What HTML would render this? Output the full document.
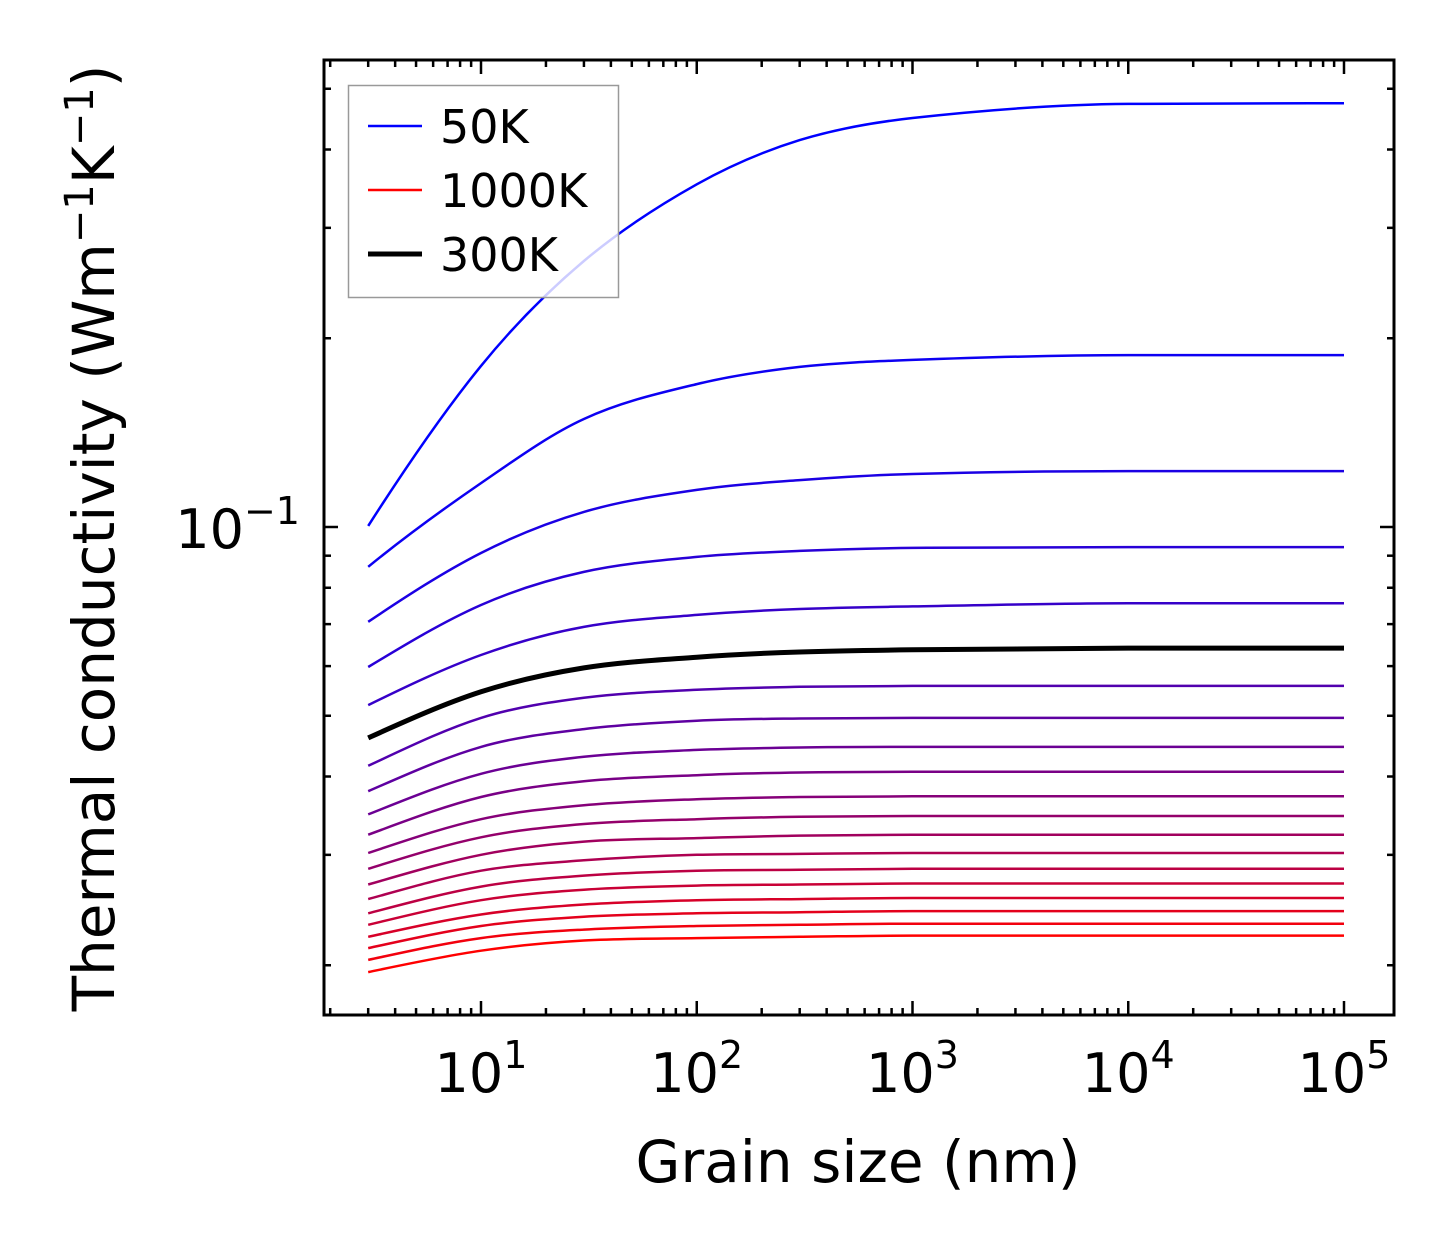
<!DOCTYPE html>
<html><head><meta charset="utf-8"><style>
body{margin:0;background:#fff}
svg text{font-family:"DejaVu Sans","Liberation Sans",sans-serif;fill:#000}
</style></head><body>
<svg id="chart" width="1454" height="1254" viewBox="0 0 1454 1254">
<rect width="1454" height="1254" fill="#fff"/>
<g id="lines"></g>
<g id="ticks"></g>
<rect x="324" y="60" width="1070" height="955" fill="none" stroke="#000" stroke-width="3"/>
<g>
<rect x="348.5" y="85.5" width="270" height="212" fill="rgba(255,255,255,0.8)" stroke="#999" stroke-width="1.5"/>
<line x1="368" y1="126" x2="422" y2="126" stroke="#00f" stroke-width="2.5"/>
<text x="440" y="143" font-size="46">50K</text>
<line x1="368" y1="190" x2="422" y2="190" stroke="#f00" stroke-width="2.5"/>
<text x="440" y="207" font-size="46">1000K</text>
<line x1="368" y1="254" x2="422" y2="254" stroke="#000" stroke-width="5"/>
<text x="440" y="271" font-size="46">300K</text>
</g>
<text x="858" y="1182" font-size="58" text-anchor="middle">Grain size (nm)</text>
<text transform="translate(114,538) rotate(-90)" font-size="58" text-anchor="middle">Thermal conductivity (Wm<tspan dy="-21" font-size="40">−1</tspan><tspan dy="21">K</tspan><tspan dy="-21" font-size="40">−1</tspan><tspan dy="21">)</tspan></text>
</svg>
<script>
const grainSizes=[3,10,30,100,300,1000,10000,100000];
const temps=[50,100,150,200,250,300,350,400,450,500,550,600,650,700,750,800,850,900,950,1000];
const k50=[0.1004,0.1807,0.2656,0.352,0.414,0.449,0.473,0.474];
const k100=[0.0864,0.1175,0.1487,0.169,0.180,0.1847,0.188,0.188];
const k150=[0.0706,0.0909,0.1057,0.1146,0.1188,0.1215,0.1228,0.1228];
const k200=[0.0598,0.0751,0.0848,0.0896,0.0916,0.0926,0.0929,0.0929];
const k250=[0.0520,0.0625,0.0693,0.0724,0.0740,0.0747,0.0756,0.0756];
const k300=[0.0461,0.0546,0.0596,0.0620,0.0632,0.0637,0.0641,0.0641];
const k350=[0.0416,0.0496,0.0534,0.0550,0.0556,0.0558,0.0558,0.0558];
const k400=[0.0379,0.0446,0.0476,0.0491,0.0495,0.0496,0.0496,0.0496];
const k450=[0.0348,0.0404,0.0430,0.0441,0.0445,0.0446,0.0446,0.0446];
const k500=[0.0323,0.0371,0.0393,0.0402,0.0406,0.0407,0.0407,0.0407];
const k550=[0.0302,0.0342,0.0360,0.0368,0.0371,0.0372,0.0372,0.0372];
const k600=[0.0285,0.0320,0.0336,0.0342,0.0345,0.0346,0.0346,0.0346];
const k650=[0.0269,0.0300,0.0315,0.0319,0.0322,0.0323,0.0323,0.0323];
const k700=[0.0255,0.0283,0.0294,0.0300,0.0301,0.0302,0.0302,0.0302];
const k750=[0.0242,0.0267,0.0278,0.0283,0.0284,0.0285,0.0285,0.0285];
const k800=[0.0232,0.0254,0.0264,0.0268,0.0269,0.0270,0.0270,0.0270];
const k850=[0.0222,0.0241,0.0250,0.0254,0.0255,0.0256,0.0256,0.0256];
const k900=[0.0213,0.0231,0.0239,0.0242,0.0243,0.0244,0.0244,0.0244];
const k950=[0.0204,0.0221,0.0228,0.0231,0.0232,0.0233,0.0233,0.0233];
const k1000=[0.0195,0.0211,0.0219,0.0221,0.0222,0.0223,0.0223,0.0223];
const series=[k50,k100,k150,k200,k250,k300,k350,k400,k450,k500,k550,k600,k650,k700,k750,k800,k850,k900,k950,k1000];
const xTickLabels=["1","2","3","4","5"];
const yMinorVals=[0.02,0.03,0.04,0.05,0.06,0.07,0.08,0.09,0.2,0.3,0.4,0.5];

const NS="http://www.w3.org/2000/svg";
const X0=481,XD=215.75,Y0=527,YD=627;
function sx(v){return X0+(Math.log10(v)-1)*XD;}
function sy(v){return Y0-(Math.log10(v)+1)*YD;}

function pathFor(vals){
  const px=grainSizes.map(sx), py=vals.map(sy);
  const n=px.length, m=[], d=[];
  for(let i=0;i<n-1;i++)d.push((py[i+1]-py[i])/(px[i+1]-px[i]));
  m[0]=d[0]*1.1;m[n-1]=0;
  for(let i=1;i<n-1;i++){
    if(d[i-1]*d[i]<=0){m[i]=0;continue;}
    let s=(py[i+1]-py[i-1])/(px[i+1]-px[i-1]);
    const lim=3*Math.min(Math.abs(d[i-1]),Math.abs(d[i]));
    if(Math.abs(s)>lim)s=Math.sign(s)*lim;
    m[i]=s;
  }
  let s="M"+px[0].toFixed(1)+","+py[0].toFixed(1);
  for(let i=0;i<n-1;i++){
    const h=px[i+1]-px[i];
    s+=" C"+(px[i]+h/3).toFixed(1)+","+(py[i]+m[i]*h/3).toFixed(1)+" "+(px[i+1]-h/3).toFixed(1)+","+(py[i+1]-m[i+1]*h/3).toFixed(1)+" "+px[i+1].toFixed(1)+","+py[i+1].toFixed(1);
  }
  return s;
}
const lg=document.getElementById('lines');
let blackPath=null;
series.forEach((vals,i)=>{
  const p=document.createElementNS(NS,'path');
  p.setAttribute('d',pathFor(vals));
  p.setAttribute('fill','none');
  const t=i/19;
  if(temps[i]===300){p.setAttribute('stroke','#000');p.setAttribute('stroke-width','5');blackPath=p;}
  else{p.setAttribute('stroke','rgb('+Math.round(255*t)+',0,'+Math.round(255*(1-t))+')');p.setAttribute('stroke-width','2.5');}
  
  
  lg.appendChild(p);
});
if(blackPath)lg.appendChild(blackPath);

const tg=document.getElementById('ticks');
function line(x1,y1,x2,y2,name){
  const l=document.createElementNS(NS,'line');
  l.setAttribute('x1',x1);l.setAttribute('y1',y1);l.setAttribute('x2',x2);l.setAttribute('y2',y2);
  l.setAttribute('stroke','#000');l.setAttribute('stroke-width','2.5');
  
  
  tg.appendChild(l);
}
function txt(x,y,html,anchor,name){
  const t=document.createElementNS(NS,'text');
  t.setAttribute('x',x);t.setAttribute('y',y);t.setAttribute('font-size','54');t.setAttribute('text-anchor',anchor);
  t.innerHTML=html;
  
  
  tg.appendChild(t);
}
for(let e=0;e<=5;e++){
  for(let k=1;k<10;k++){
    const v=k*Math.pow(10,e), x=sx(v);
    if(x<326||x>1392)continue;
    const L=(k===1)?14:7;
    line(x,1015,x,1015-L,'x-tick');
    line(x,60,x,60+L,'x-tick-top');
  }
}
xTickLabels.forEach(s=>{
  const x=sx(Math.pow(10,+s));
  txt(x,1092,'10<tspan dy="-24" font-size="38">'+s+'</tspan>','middle','x-tick-label');
});
line(324,sy(0.1),338,sy(0.1),'y-tick');
line(1394,sy(0.1),1380,sy(0.1),'y-tick-right');
yMinorVals.forEach(v=>{
  const y=sy(v);
  line(324,y,331,y,'y-minor-tick');
  line(1394,y,1387,y,'y-minor-tick-right');
});
txt(300,548,'10<tspan dy="-24" font-size="38">−1</tspan>','end','y-tick-label');
</script>
</body></html>
